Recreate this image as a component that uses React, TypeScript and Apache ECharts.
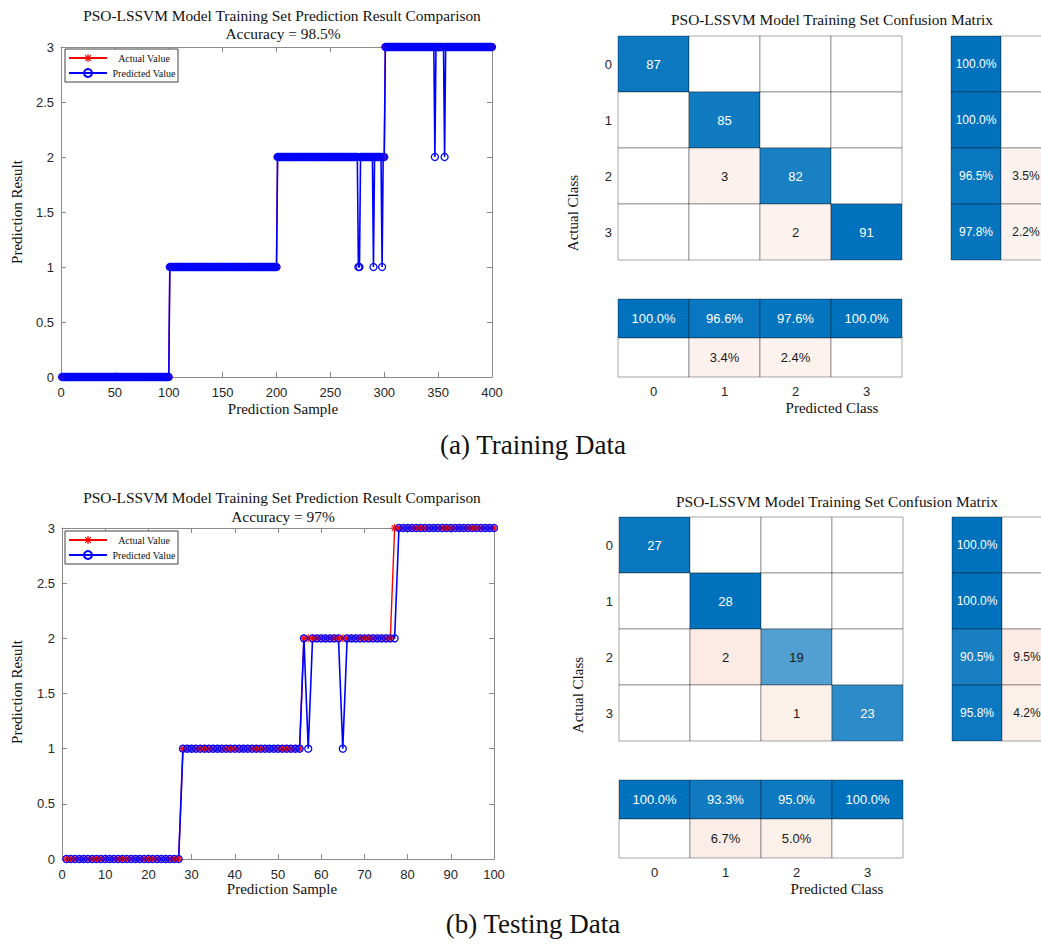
import React, { useEffect, useRef } from 'react';
import * as echarts from 'echarts';

const SERIF = "'Liberation Serif', 'Times New Roman', Times, serif";
const SANS = "'Liberation Sans', Arial, Helvetica, sans-serif";

// Class names
const classes = ['0', '1', '2', '3'];

// Run-length encoded class per sample: [class, number of consecutive samples]
const trainActualRuns = [[0, 100], [1, 100], [2, 100], [3, 100]];
const trainPredRuns = [
  [0, 100], [1, 100], [2, 75], [1, 2], [2, 12], [1, 1], [2, 7], [1, 1], [2, 2],
  [3, 46], [2, 1], [3, 8], [2, 1], [3, 44],
];
const testActualRuns = [[0, 27], [1, 28], [2, 21], [3, 24]];
const testPredRuns = [[0, 27], [1, 28], [2, 1], [1, 1], [2, 7], [1, 1], [2, 12], [3, 23]];

// Axis ranges: [min, max, interval]
const trainXRange = [0, 400, 50];
const testXRange = [0, 100, 10];
const yRange = [0, 3, 0.5];

const trainAccuracy = '98.5%';
const testAccuracy = '97%';

// Confusion matrices (rows: actual, cols: predicted)
const trainCM = [[87, 0, 0, 0], [0, 85, 0, 0], [0, 3, 82, 0], [0, 0, 2, 91]];
const testCM = [[27, 0, 0, 0], [0, 28, 0, 0], [0, 2, 19, 0], [0, 0, 1, 23]];
// Row summaries: [correct %, error %]
const trainRowPct = [[100, 0], [100, 0], [96.5, 3.5], [97.8, 2.2]];
const testRowPct = [[100, 0], [100, 0], [90.5, 9.5], [95.8, 4.2]];
// Column summaries: [correct % row, error % row]
const trainColPct = [[100, 96.6, 97.6, 100], [0, 3.4, 2.4, 0]];
const testColPct = [[100, 93.3, 95.0, 100], [0, 6.7, 5.0, 0]];

const STAR =
  'path://M-1,-0.15L1,-0.15L1,0.15L-1,0.15Z M-0.15,-1L0.15,-1L0.15,1L-0.15,1Z ' +
  'M-0.594,-0.806L0.806,0.594L0.594,0.806L-0.806,-0.594Z ' +
  'M-0.806,0.594L0.594,-0.806L0.806,-0.594L-0.594,0.806Z';

function expand(runs: number[][]) {
  const out: number[][] = [];
  let i = 1;
  runs.forEach(([v, n]) => {
    for (let k = 0; k < n; k++) out.push([i++, v]);
  });
  return out;
}

const BLUE = [0, 114, 189];
const ORANGE = [217, 83, 25];
function mix(c: number[], a: number) {
  const ch = c.map((x) => Math.round(255 - (255 - x) * a));
  return `rgb(${ch[0]},${ch[1]},${ch[2]})`;
}
function blueCell(a: number) {
  return { color: mix(BLUE, a), text: a > 0.75 ? '#ffffff' : '#1a1a1a' };
}
function pinkCell(frac: number) {
  return { color: mix(ORANGE, 0.06 + 0.6 * frac), text: '#1a1a1a' };
}

function cell(x: number, y: number, v: number, txt: string, st: { color: string; text: string } | null) {
  return {
    value: [x, y, v],
    txt: st ? txt : '',
    fill: st ? st.color : '#ffffff',
    textColor: st ? st.text : '#1a1a1a',
  };
}

function cmData(cm: number[][]) {
  const maxDiag = Math.max(...cm.map((r, i) => r[i]));
  const out: any[] = [];
  cm.forEach((row, r) => {
    const tot = row.reduce((a, b) => a + b, 0);
    row.forEach((v, c) => {
      let st = null;
      if (v > 0) st = r === c ? blueCell(v / maxDiag) : pinkCell(v / tot);
      out.push(cell(c, r, v, String(v), st));
    });
  });
  return out;
}

function rowPctData(rows: number[][]) {
  const out: any[] = [];
  rows.forEach((p, r) => {
    out.push(cell(0, r, p[0], p[0].toFixed(1) + '%', p[0] > 0 ? blueCell(p[0] / 100) : null));
    out.push(cell(1, r, p[1], p[1].toFixed(1) + '%', p[1] > 0 ? pinkCell(p[1] / 100) : null));
  });
  return out;
}

function colPctData(rows: number[][]) {
  const out: any[] = [];
  rows[0].forEach((v, c) => {
    out.push(cell(c, 0, v, v.toFixed(1) + '%', v > 0 ? blueCell(v / 100) : null));
  });
  rows[1].forEach((v, c) => {
    out.push(cell(c, 1, v, v.toFixed(1) + '%', v > 0 ? pinkCell(v / 100) : null));
  });
  return out;
}

const AX = '#8a8a8a';
const LBL = '#262626';

function valueAxis(range: number[], position: string, gridIndex: number, labels: boolean, margin: number) {
  return {
    type: 'value',
    gridIndex,
    position,
    min: range[0],
    max: range[1],
    interval: range[2],
    axisLine: { show: true, onZero: false, lineStyle: { color: AX, width: 1 } },
    axisTick: { show: true, inside: true, length: 5, lineStyle: { color: AX } },
    splitLine: { show: false },
    axisLabel: { show: labels, fontFamily: SANS, fontSize: 13, color: LBL, margin },
  };
}

function catAxis(data: string[], gridIndex: number, showLabels: boolean, inverse: boolean, margin: number) {
  return {
    type: 'category',
    gridIndex,
    data,
    inverse,
    show: showLabels,
    axisLine: { show: false },
    axisTick: { show: false },
    splitLine: { show: false },
    axisLabel: { show: showLabels, fontFamily: SANS, fontSize: 13, color: LBL, margin },
  };
}

function lineSeries(name: string, runs: number[][], axisIdx: number, pred: boolean) {
  const col = pred ? '#0000ff' : '#ff0000';
  return {
    type: 'line',
    name,
    xAxisIndex: axisIdx,
    yAxisIndex: axisIdx,
    data: expand(runs),
    symbol: pred ? 'circle' : STAR,
    symbolSize: pred ? 7 : 8,
    showAllSymbol: true,
    clip: false,
    color: col,
    itemStyle: pred
      ? { color: 'rgba(255,255,255,0)', borderColor: col, borderWidth: 1.3 }
      : { color: col },
    lineStyle: { color: col, width: pred ? 1.6 : 1.4 },
    emphasis: { disabled: true },
    silent: true,
    animation: false,
  };
}

function cellSeries(data: any[], idx: number, fontSize: number) {
  return {
    type: 'custom',
    xAxisIndex: idx,
    yAxisIndex: idx,
    data,
    silent: true,
    clip: false,
    renderItem: (params: any, api: any) => {
      const item = data[params.dataIndex];
      const pt = api.coord([api.value(0), api.value(1)]);
      const sz = api.size([1, 1]);
      return {
        type: 'group',
        children: [
          {
            type: 'rect',
            shape: { x: pt[0] - sz[0] / 2, y: pt[1] - sz[1] / 2, width: sz[0], height: sz[1] },
            style: { fill: item.fill, stroke: 'rgba(0,0,0,0.35)', lineWidth: 1 },
          },
          {
            type: 'text',
            x: pt[0],
            y: pt[1],
            style: {
              text: item.txt,
              fill: item.textColor,
              fontFamily: SANS,
              fontSize,
              align: 'center',
              verticalAlign: 'middle',
            },
          },
        ],
      };
    },
  };
}

function legend(top: number) {
  return {
    left: 65,
    top,
    orient: 'vertical',
    data: ['Actual Value', 'Predicted Value'],
    itemWidth: 38,
    itemHeight: 10,
    itemGap: 5,
    padding: [4, 2, 4, 3],
    borderColor: '#404040',
    borderWidth: 1,
    borderRadius: 0,
    backgroundColor: '#ffffff',
    selectedMode: false,
    formatter: '{c|{name}}',
    textStyle: {
      fontFamily: SERIF,
      fontSize: 10,
      color: '#111',
      rich: { c: { width: 64, align: 'center', fontFamily: SERIF, fontSize: 10, lineHeight: 12, color: '#111' } },
    },
  };
}

function txt(x: number, y: number, text: string, size: number, rot = 0) {
  return {
    type: 'text',
    x,
    y,
    rotation: rot,
    silent: true,
    style: {
      text,
      fontFamily: SERIF,
      fontSize: size,
      fill: '#111',
      align: 'center',
      verticalAlign: 'middle',
    },
  };
}

const titleLine = 'PSO-LSSVM Model Training Set Prediction Result Comparison';
const cmTitle = 'PSO-LSSVM Model Training Set Confusion Matrix';

export default function App() {
  const ref = useRef<HTMLDivElement>(null);
  useEffect(() => {
    if (!ref.current) return;
    const chart = echarts.init(ref.current, undefined, { renderer: 'svg' });
    const g = (left: number, top: number, width: number, height: number) => ({
      left, top, width, height, containLabel: false, outerBoundsMode: 'none', show: false,
    });
    const option: any = {
      animation: false,
      backgroundColor: '#ffffff',
      grid: [
        g(61, 47, 431, 330),
        g(62, 528, 432, 331),
        g(618, 36, 284, 224),
        g(951, 36, 100, 224),
        g(618, 299, 284, 78),
        g(619, 517, 284, 224),
        g(952, 517, 100, 224),
        g(619, 780, 284, 78),
      ],
      xAxis: [
        valueAxis(trainXRange, 'bottom', 0, true, 9),
        valueAxis(trainXRange, 'top', 0, false, 9),
        valueAxis(testXRange, 'bottom', 1, true, 9),
        valueAxis(testXRange, 'top', 1, false, 9),
        catAxis(classes, 2, false, false, 8),
        catAxis(['c', 'e'], 3, false, false, 8),
        catAxis(classes, 4, true, false, 8),
        catAxis(classes, 5, false, false, 8),
        catAxis(['c', 'e'], 6, false, false, 8),
        catAxis(classes, 7, true, false, 8),
      ],
      yAxis: [
        valueAxis(yRange, 'left', 0, true, 7),
        valueAxis(yRange, 'right', 0, false, 7),
        valueAxis(yRange, 'left', 1, true, 7),
        valueAxis(yRange, 'right', 1, false, 7),
        catAxis(classes, 2, true, true, 6),
        catAxis(classes, 3, false, true, 6),
        catAxis(['c', 'e'], 4, false, true, 6),
        catAxis(classes, 5, true, true, 6),
        catAxis(classes, 6, false, true, 6),
        catAxis(['c', 'e'], 7, false, true, 6),
      ],
      legend: [legend(49), legend(531)],
      series: [
        lineSeries('Actual Value', trainActualRuns, 0, false),
        lineSeries('Predicted Value', trainPredRuns, 0, true),
        lineSeries('Actual Value', testActualRuns, 2, false),
        lineSeries('Predicted Value', testPredRuns, 2, true),
        cellSeries(cmData(trainCM), 4, 13),
        cellSeries(rowPctData(trainRowPct), 5, 12),
        cellSeries(colPctData(trainColPct), 6, 13),
        cellSeries(cmData(testCM), 7, 13),
        cellSeries(rowPctData(testRowPct), 8, 12),
        cellSeries(colPctData(testColPct), 9, 13),
      ],
      graphic: [
        txt(282, 15.5, titleLine, 15.4),
        txt(283, 33, 'Accuracy = ' + trainAccuracy, 15.4),
        txt(283, 409, 'Prediction Sample', 15),
        txt(17, 212, 'Prediction Result', 15, Math.PI / 2),
        txt(832, 19, cmTitle, 15.4),
        txt(573, 213, 'Actual Class', 15, Math.PI / 2),
        txt(832, 408, 'Predicted Class', 15),
        txt(533, 445, '(a) Training Data', 27),
        txt(282, 497.5, titleLine, 15.4),
        txt(283, 516, 'Accuracy = ' + testAccuracy, 15.4),
        txt(282, 889, 'Prediction Sample', 15),
        txt(17, 692, 'Prediction Result', 15, Math.PI / 2),
        txt(837, 501, cmTitle, 15.4),
        txt(578, 695, 'Actual Class', 15, Math.PI / 2),
        txt(837, 889, 'Predicted Class', 15),
        txt(533, 924, '(b) Testing Data', 27),
      ],
    };
    chart.setOption(option);
    return () => chart.dispose();
  }, []);
  return (
    <div
      ref={ref}
      style={{ position: 'absolute', left: 0, top: 0, width: 1041, height: 944, overflow: 'hidden' }}
    />
  );
}
